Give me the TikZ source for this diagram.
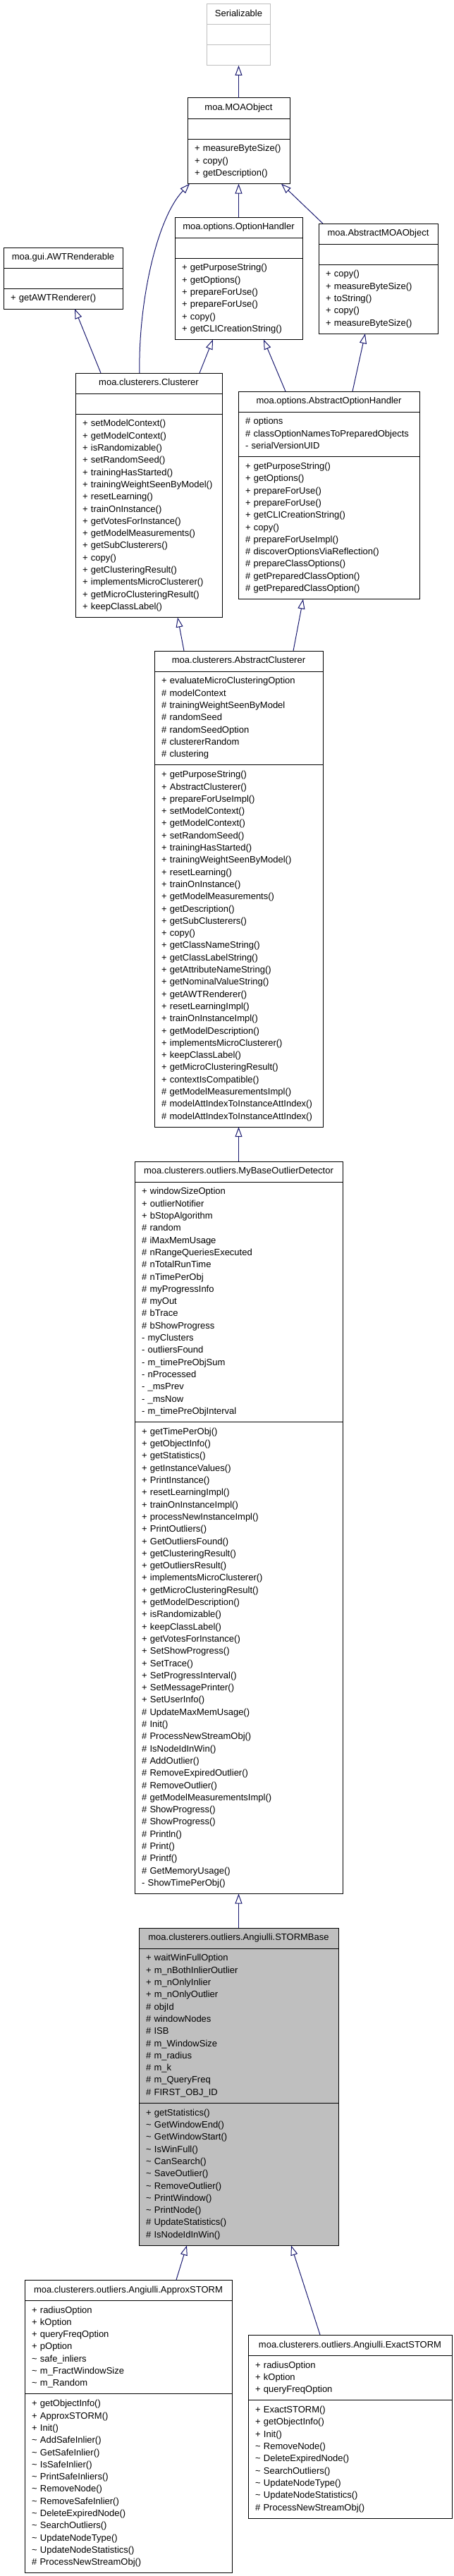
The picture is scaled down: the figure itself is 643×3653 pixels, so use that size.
\documentclass[tikz,border=0pt]{standalone}
\usepackage{fontspec}
\setmainfont{Liberation Sans}
\usetikzlibrary{shapes.multipart,arrows.meta}

\definecolor{edgeblue}{RGB}{25,25,112}
\setlength\parindent{0pt}
\setlength\parskip{0pt}
\newcommand\umlsize{\fontsize{13}{17.3}\selectfont}
\newcommand\hd[1]{\umlsize\centering\strut#1\par}
\newcommand\emp{\umlsize\strut}
\newcommand\mem[1]{\umlsize\foreach \mline in {#1}{\strut\mline\par}}
\newcommand\pk{\textasciitilde\space}

\begin{document}
\begin{tikzpicture}
      [x=1pt,y=-1pt,
       every node/.style={draw, fill=white, line width=1pt, rectangle split, rectangle split parts=3,
         anchor=north west, align=left, inner xsep=10pt, inner ysep=5.35pt, outer sep=0pt, font=\umlsize},
       inh/.style={draw=edgeblue, line width=1pt, -{Triangle[length=14pt,width=10pt,fill=white]}}]
    \useasboundingbox (0,0) rectangle (643,3653);

    \node[draw=gray!50, text width=70pt] (ser) at (293.5,6) {\hd{Serializable}\nodepart{two}\emp\nodepart{three}\emp};
    \node[text width=125pt] (moaobj) at (266,139) {\hd{moa.MOAObject}\nodepart{two}\emp\nodepart{three}
      \mem{+ measureByteSize(), + copy(), + getDescription()}};
    \node[text width=161pt] (opthandler) at (248,308) {\hd{moa.options.OptionHandler}\nodepart{two}\emp\nodepart{three}
      \mem{+ getPurposeString(), + getOptions(), + prepareForUse(), + prepareForUse(), + copy(), + getCLICreationString()}};
    \node[text width=149pt] (absmoa) at (452,317) {\hd{moa.AbstractMOAObject}\nodepart{two}\emp\nodepart{three}
      \mem{+ copy(), + measureByteSize(), + toString(), + copy(), + measureByteSize()}};
    \node[text width=149pt] (awt) at (5,351) {\hd{moa.gui.AWTRenderable}\nodepart{two}\emp\nodepart{three}
      \mem{+ getAWTRenderer()}};

    \node[text width=188pt] (clusterer) at (107,529) {\hd{moa.clusterers.Clusterer}\nodepart{two}\emp\nodepart{three}
      \mem{+ setModelContext(), + getModelContext(), + isRandomizable(), + setRandomSeed(), + trainingHasStarted(),
        + trainingWeightSeenByModel(), + resetLearning(), + trainOnInstance(), + getVotesForInstance(),
        + getModelMeasurements(), + getSubClusterers(), + copy(), + getClusteringResult(),
        + implementsMicroClusterer(), + getMicroClusteringResult(), + keepClassLabel()}};
    \node[text width=237pt] (absopt) at (338,555) {\hd{moa.options.AbstractOptionHandler}\nodepart{two}
      \mem{\# options, \# classOptionNamesToPreparedObjects, - serialVersionUID}\nodepart{three}
      \mem{+ getPurposeString(), + getOptions(), + prepareForUse(), + prepareForUse(), + getCLICreationString(),
        + copy(), \# prepareForUseImpl(), \# discoverOptionsViaReflection(), \# prepareClassOptions(),
        \# getPreparedClassOption(), \# getPreparedClassOption()}};

    \node[text width=219pt] (absclu) at (219,923) {\hd{moa.clusterers.AbstractClusterer}\nodepart{two}
      \mem{+ evaluateMicroClusteringOption, \# modelContext, \# trainingWeightSeenByModel, \# randomSeed,
        \# randomSeedOption, \# clustererRandom, \# clustering}\nodepart{three}
      \mem{+ getPurposeString(), + AbstractClusterer(), + prepareForUseImpl(), + setModelContext(),
        + getModelContext(), + setRandomSeed(), + trainingHasStarted(), + trainingWeightSeenByModel(),
        + resetLearning(), + trainOnInstance(), + getModelMeasurements(), + getDescription(),
        + getSubClusterers(), + copy(), + getClassNameString(), + getClassLabelString(),
        + getAttributeNameString(), + getNominalValueString(), + getAWTRenderer(), + resetLearningImpl(),
        + trainOnInstanceImpl(), + getModelDescription(), + implementsMicroClusterer(), + keepClassLabel(),
        + getMicroClusteringResult(), + contextIsCompatible(), \# getModelMeasurementsImpl(),
        \# modelAttIndexToInstanceAttIndex(), \# modelAttIndexToInstanceAttIndex()}};

    \node[text width=275pt] (mybase) at (191,1647) {\hd{moa.clusterers.outliers.MyBaseOutlierDetector}\nodepart{two}
      \mem{+ windowSizeOption, + outlierNotifier, + bStopAlgorithm, \# random, \# iMaxMemUsage,
        \# nRangeQueriesExecuted, \# nTotalRunTime, \# nTimePerObj, \# myProgressInfo, \# myOut, \# bTrace,
        \# bShowProgress, - myClusters, - outliersFound, - m\_timePreObjSum, - nProcessed, - \_msPrev,
        - \_msNow, - m\_timePreObjInterval}\nodepart{three}
      \mem{+ getTimePerObj(), + getObjectInfo(), + getStatistics(), + getInstanceValues(), + PrintInstance(),
        + resetLearningImpl(), + trainOnInstanceImpl(), + processNewInstanceImpl(), + PrintOutliers(),
        + GetOutliersFound(), + getClusteringResult(), + getOutliersResult(), + implementsMicroClusterer(),
        + getMicroClusteringResult(), + getModelDescription(), + isRandomizable(), + keepClassLabel(),
        + getVotesForInstance(), + SetShowProgress(), + SetTrace(), + SetProgressInterval(),
        + SetMessagePrinter(), + SetUserInfo(), \# UpdateMaxMemUsage(), \# Init(), \# ProcessNewStreamObj(),
        \# IsNodeIdInWin(), \# AddOutlier(), \# RemoveExpiredOutlier(), \# RemoveOutlier(),
        \# getModelMeasurementsImpl(), \# ShowProgress(), \# ShowProgress(), \# Println(), \# Print(),
        \# Printf(), \# GetMemoryUsage(), - ShowTimePerObj()}};

    \node[fill=gray!50, text width=263pt] (storm) at (197,2734) {\hd{moa.clusterers.outliers.Angiulli.STORMBase}\nodepart{two}
      \mem{+ waitWinFullOption, + m\_nBothInlierOutlier, + m\_nOnlyInlier, + m\_nOnlyOutlier, \# objId,
        \# windowNodes, \# ISB, \# m\_WindowSize, \# m\_radius, \# m\_k, \# m\_QueryFreq, \# FIRST\_OBJ\_ID}\nodepart{three}
      \mem{+ getStatistics(), \pk GetWindowEnd(), \pk GetWindowStart(), \pk IsWinFull(), \pk CanSearch(),
        \pk SaveOutlier(), \pk RemoveOutlier(), \pk PrintWindow(), \pk PrintNode(), \# UpdateStatistics(),
        \# IsNodeIdInWin()}};

    \node[text width=274pt] (approx) at (35,3233) {\hd{moa.clusterers.outliers.Angiulli.ApproxSTORM}\nodepart{two}
      \mem{+ radiusOption, + kOption, + queryFreqOption, + pOption, \pk safe\_inliers, \pk m\_FractWindowSize,
        \pk m\_Random}\nodepart{three}
      \mem{+ getObjectInfo(), + ApproxSTORM(), + Init(), \pk AddSafeInlier(), \pk GetSafeInlier(),
        \pk IsSafeInlier(), \pk PrintSafeInliers(), \pk RemoveNode(), \pk RemoveSafeInlier(),
        \pk DeleteExpiredNode(), \pk SearchOutliers(), \pk UpdateNodeType(), \pk UpdateNodeStatistics(),
        \# ProcessNewStreamObj()}};
    \node[text width=269pt] (exact) at (352,3311) {\hd{moa.clusterers.outliers.Angiulli.ExactSTORM}\nodepart{two}
      \mem{+ radiusOption, + kOption, + queryFreqOption}\nodepart{three}
      \mem{+ ExactSTORM(), + getObjectInfo(), + Init(), \pk RemoveNode(), \pk DeleteExpiredNode(),
        \pk SearchOutliers(), \pk UpdateNodeType(), \pk UpdateNodeStatistics(), \# ProcessNewStreamObj()}};

    % straight inheritance down the middle
    \foreach \from/\to in {moaobj/ser, opthandler/moaobj, mybase/absclu, storm/mybase}
      \draw[inh] (\from) -- (\to);
    % slanted ones, shifts from the west corners
    \foreach \from/\fx/\to/\tx in {absmoa/6/moaobj/133, clusterer/36/awt/101, clusterer/176/opthandler/54,
        absopt/67/opthandler/126, absopt/162/absmoa/66, absclu/42/clusterer/145, absclu/197/absopt/92,
        approx/215/storm/68, exact/102/storm/216}
      \draw[inh] ([xshift=\fx pt]\from.north west) -- ([xshift=\tx pt]\to.south west);
    \draw[inh] ([xshift=91pt]clusterer.north west) .. controls (196,430) and (222,310) .. ([xshift=3pt]moaobj.south west);
\end{tikzpicture}
\end{document}
